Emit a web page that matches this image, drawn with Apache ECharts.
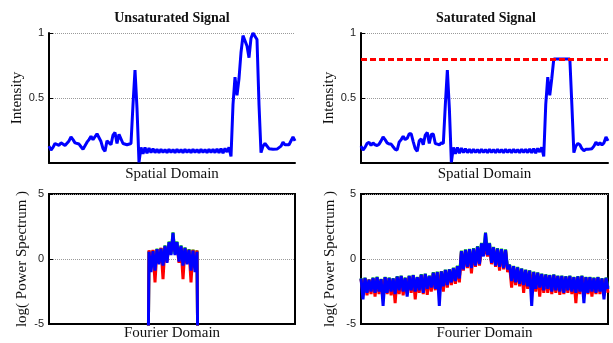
<!DOCTYPE html>
<html>
<head>
<meta charset="utf-8">
<script src="https://cdn.jsdelivr.net/npm/echarts@6/dist/echarts.min.js"></script>
<style>
  html, body { margin: 0; padding: 0; background: #fff; }
  #chart { width: 613px; height: 343px; }
</style>
</head>
<body>
<div id="chart"></div>
<script>
// spatial domain samples (124 points across the axis)
var unsaturated = [
  0.13, 0.10, 0.12, 0.15, 0.16, 0.135, 0.155, 0.14, 0.135, 0.145,
  0.17, 0.20, 0.18, 0.155, 0.146, 0.146, 0.125, 0.105, 0.10, 0.16,
  0.18, 0.205, 0.18, 0.19, 0.225, 0.225, 0.165, 0.11, 0.09, 0.17,
  0.185, 0.14, 0.215, 0.235, 0.15, 0.22, 0.223, 0.15, 0.145, 0.14,
  0.155, 0.15, 0.45, 0.715, 0.42, 0.005, 0.12, 0.07, 0.12, 0.075,
  0.115, 0.08, 0.11, 0.08, 0.105, 0.08, 0.105, 0.082, 0.103, 0.08,
  0.105, 0.082, 0.103, 0.08, 0.105, 0.082, 0.103, 0.08, 0.105, 0.082,
  0.103, 0.08, 0.105, 0.082, 0.103, 0.08, 0.105, 0.082, 0.103, 0.08,
  0.105, 0.082, 0.105, 0.08, 0.108, 0.078, 0.11, 0.075, 0.112, 0.085,
  0.12, 0.05, 0.45, 0.66, 0.52, 0.65, 0.85, 0.98, 0.99, 0.90,
  0.81, 0.96, 1.0, 1.0, 0.95, 0.45, 0.08, 0.13, 0.15, 0.14,
  0.11, 0.095, 0.105, 0.105, 0.107, 0.11, 0.13, 0.16, 0.14, 0.155,
  0.14, 0.155, 0.20, 0.17
];
var saturated = [
  0.13, 0.10, 0.12, 0.15, 0.16, 0.135, 0.155, 0.14, 0.135, 0.145,
  0.17, 0.20, 0.18, 0.155, 0.146, 0.146, 0.125, 0.105, 0.10, 0.16,
  0.18, 0.205, 0.18, 0.19, 0.225, 0.225, 0.165, 0.11, 0.09, 0.17,
  0.185, 0.14, 0.215, 0.235, 0.15, 0.22, 0.223, 0.15, 0.145, 0.14,
  0.155, 0.15, 0.45, 0.715, 0.42, 0.005, 0.12, 0.07, 0.12, 0.075,
  0.115, 0.08, 0.11, 0.08, 0.105, 0.08, 0.105, 0.082, 0.103, 0.08,
  0.105, 0.082, 0.103, 0.08, 0.105, 0.082, 0.103, 0.08, 0.105, 0.082,
  0.103, 0.08, 0.105, 0.082, 0.103, 0.08, 0.105, 0.082, 0.103, 0.08,
  0.105, 0.082, 0.105, 0.08, 0.108, 0.078, 0.11, 0.075, 0.112, 0.085,
  0.12, 0.05, 0.45, 0.66, 0.52, 0.65, 0.80, 0.80, 0.80, 0.80,
  0.80, 0.80, 0.80, 0.80, 0.80, 0.45, 0.08, 0.13, 0.15, 0.14,
  0.11, 0.095, 0.105, 0.105, 0.107, 0.11, 0.13, 0.16, 0.14, 0.155,
  0.14, 0.155, 0.20, 0.17
];
var satLevel = 0.8;

// log power spectra, unsaturated: only the band from index 50 to 74 is non-zero
var bandStart = 50;
var logZero = -20;
var unsatGreen = [0.62, -0.6, 0.66, -0.5, 0.79, -0.2, 0.84, -0.3, 1.04, -0.1, 1.34, 0.4, 2.05, 0.4, 1.34, 0.0, 1.04, -0.3, 0.89, -0.2, 0.75, -0.6, 0.71, -0.7, 0.66];
var unsatRed   = [0.68, -0.5, 0.7, -1.8, 0.75, -0.3, 0.85, -1.55, 0.95, -0.2, 1.1, 0.6, 1.1, 0.6, 1.0, -0.3, 0.9, -1.55, 0.8, -0.3, 0.7, -1.8, 0.7, -0.6, 0.65];
var unsatBlue  = [0.55, -1.0, 0.6, -0.9, 0.75, -0.4, 0.8, -0.5, 1.0, -0.3, 1.3, 0.3, 2.0, 0.3, 1.3, -0.2, 1.0, -0.5, 0.85, -0.4, 0.7, -0.9, 0.65, -1.0, 0.55];

// log power spectra, saturated (124 points)
var satGreen = [
  -1.48, -2.5, -1.43, -2.5, -1.58, -2.4, -1.43, -2.5, -1.37, -2.4,
  -1.53, -2.5, -1.38, -2.5, -1.43, -2.4, -1.48, -2.6, -1.33, -2.3,
  -1.28, -2.4, -1.43, -2.5, -1.28, -2.3, -1.23, -2.4, -1.38, -2.3,
  -1.17, -2.4, -1.13, -2.2, -1.28, -2.1, -1.02, -2.2, -0.98, -2.3,
  -0.93, -2.0, -0.83, -1.9, -0.78, -1.7, -0.68, -1.6, -0.52, -1.4,
  0.64, -0.7, 0.73, -0.5, 0.78, -0.6, 0.83, -0.4, 0.98, -0.3,
  1.23, 0.3, 2.03, 0.4, 1.23, -0.2, 0.93, -0.4, 0.83, -0.5,
  0.79, -0.6, 0.74, -0.7, -0.43, -1.6, -0.53, -1.7, -0.62, -1.8,
  -0.73, -1.9, -0.83, -2.0, -0.87, -2.2, -0.98, -2.2, -1.03, -2.1,
  -1.13, -2.3, -1.18, -2.2, -1.23, -2.4, -1.18, -2.3, -1.28, -2.4,
  -1.28, -2.5, -1.33, -2.3, -1.28, -2.4, -1.38, -2.5, -1.33, -2.4,
  -1.28, -2.5, -1.38, -2.5, -1.38, -2.4, -1.43, -2.5, -1.38, -2.4,
  -1.48, -2.5, -1.43, -2.2
];
var satRed = [
  -1.55, -2.7, -1.5, -2.8, -1.6, -2.7, -1.5, -2.9, -1.45, -2.7,
  -1.6, -2.8, -1.45, -2.7, -1.5, -2.8, -1.55, -3.4, -1.4, -2.7,
  -1.35, -2.8, -1.5, -2.7, -1.35, -2.6, -1.3, -3.1, -1.45, -2.6,
  -1.25, -2.7, -1.2, -2.75, -1.35, -2.5, -1.1, -2.4, -1.05, -2.6,
  -1.0, -2.5, -0.9, -2.2, -0.85, -2.0, -0.75, -1.9, -0.6, -1.8,
  0.55, -0.9, 0.65, -0.7, 0.7, -1.1, 0.75, -0.6, 0.9, -0.5,
  1.0, 0.3, 1.1, 0.2, 1.0, -0.4, 0.85, -0.6, 0.75, -0.9,
  0.7, -0.8, 0.65, -1.0, -0.5, -2.2, -0.6, -2.0, -0.7, -2.1,
  -0.8, -2.6, -0.9, -2.3, -0.95, -2.4, -1.05, -2.5, -1.1, -2.9,
  -1.2, -2.6, -1.25, -2.6, -1.3, -2.7, -1.25, -2.6, -1.35, -2.75,
  -1.35, -2.7, -1.4, -2.6, -1.35, -2.7, -1.45, -3.4, -1.4, -2.7,
  -1.35, -2.8, -1.45, -2.7, -1.45, -2.9, -1.5, -2.7, -1.45, -2.7,
  -1.55, -2.8, -1.5, -2.6
];
var satBlue = [
  -1.5, -3.1, -1.45, -2.6, -1.6, -2.5, -1.45, -2.6, -1.4, -2.5,
  -1.55, -3.6, -1.4, -2.6, -1.45, -2.5, -1.5, -2.7, -1.35, -2.4,
  -1.3, -2.5, -1.45, -2.9, -1.3, -2.4, -1.25, -2.5, -1.4, -2.4,
  -1.2, -2.6, -1.15, -2.3, -1.3, -2.2, -1.05, -2.3, -1.0, -3.6,
  -0.95, -2.1, -0.85, -2.0, -0.8, -1.8, -0.7, -1.7, -0.55, -1.5,
  0.6, -0.8, 0.7, -0.6, 0.75, -0.7, 0.8, -0.5, 0.95, -0.4,
  1.2, 0.2, 2.0, 0.3, 1.2, -0.3, 0.9, -0.5, 0.8, -0.6,
  0.75, -0.7, 0.7, -0.8, -0.45, -1.7, -0.55, -1.8, -0.65, -1.9,
  -0.75, -2.0, -0.85, -2.1, -0.9, -3.6, -1.0, -2.3, -1.05, -2.2,
  -1.15, -2.4, -1.2, -2.3, -1.25, -2.5, -1.2, -2.4, -1.3, -2.5,
  -1.3, -2.6, -1.35, -2.4, -1.3, -2.5, -1.4, -2.6, -1.35, -2.5,
  -1.3, -3.4, -1.4, -2.6, -1.4, -2.5, -1.45, -2.6, -1.4, -2.5,
  -1.5, -3.1, -1.45, -2.3
];

var nSamples = unsaturated.length;

function pairs(arr, offset) {
  return arr.map(function (v, i) { return [i + offset, v]; });
}
function bandPairs(arr) {
  return [[bandStart - 1, logZero]].concat(pairs(arr, bandStart), [[bandStart + arr.length, logZero]]);
}

var serif = '"Liberation Serif", "DejaVu Serif", serif';
var sans = '"Liberation Sans", Arial, sans-serif';

var grids = [
  { left: 49, top: 33, width: 246, height: 130 },
  { left: 361, top: 33, width: 247, height: 130 },
  { left: 49, top: 194, width: 246, height: 130, show: true, borderColor: '#000', borderWidth: 2 },
  { left: 361, top: 194, width: 247, height: 130, show: true, borderColor: '#000', borderWidth: 2 }
];

function xAx(idx, name, gap) {
  return {
    type: 'value', gridIndex: idx, min: 0, max: nSamples - 1,
    name: name, nameLocation: 'middle', nameGap: gap,
    nameTextStyle: { fontFamily: serif, fontSize: 15, color: '#111' },
    axisLine: { show: true, onZero: false, lineStyle: { color: '#000', width: 2 } },
    axisTick: { show: false }, axisLabel: { show: false }, splitLine: { show: false }
  };
}
function yAx(idx, name, gap, min, max, interval, hideZero) {
  return {
    type: 'value', gridIndex: idx, min: min, max: max, interval: interval,
    name: name, nameLocation: 'middle', nameGap: gap, nameRotate: 90,
    nameTextStyle: { fontFamily: serif, fontSize: 15, color: '#111' },
    axisLine: { show: true, lineStyle: { color: '#000', width: 2 } },
    axisTick: { show: true, inside: true, length: 4, lineStyle: { color: '#000', width: 1 } },
    axisLabel: {
      fontFamily: sans, fontSize: 11, color: '#222', margin: 5,
      formatter: function (v) { return (hideZero && v === 0) ? '' : String(v); }
    },
    splitLine: { show: true, lineStyle: { color: '#9a9a9a', type: 'dotted', width: 1 } }
  };
}

function lineSeries(x, y, data, color, extra) {
  var s = {
    type: 'line', xAxisIndex: x, yAxisIndex: y, data: data,
    showSymbol: false, symbol: 'none', clip: true,
    lineStyle: { color: color, width: 3 }, itemStyle: { color: color },
    animation: false
  };
  if (extra) { for (var k in extra) s[k] = extra[k]; }
  return s;
}

var chart = echarts.init(document.getElementById('chart'), null, { renderer: 'canvas' });
chart.setOption({
  backgroundColor: '#fff',
  animation: false,
  title: [
    { text: 'Unsaturated Signal', left: 167, top: 6, textAlign: 'center',
      textStyle: { fontFamily: serif, fontSize: 14, fontWeight: 'bold', color: '#111' } },
    { text: 'Saturated Signal', left: 481, top: 6, textAlign: 'center',
      textStyle: { fontFamily: serif, fontSize: 14, fontWeight: 'bold', color: '#111' } }
  ],
  grid: grids,
  xAxis: [
    xAx(0, 'Spatial Domain', 4),
    xAx(1, 'Spatial Domain', 4),
    xAx(2, 'Fourier Domain', 2),
    xAx(3, 'Fourier Domain', 2)
  ],
  yAxis: [
    yAx(0, 'Intensity', 19, 0, 1, 0.5, true),
    yAx(1, 'Intensity', 22, 0, 1, 0.5, true),
    yAx(2, 'log( Power Spectrum )', 19, -5, 5, 5, false),
    yAx(3, 'log( Power Spectrum )', 23, -5, 5, 5, false)
  ],
  series: [
    lineSeries(0, 0, pairs(unsaturated, 0), '#0000ff'),
    lineSeries(1, 1, pairs(saturated, 0), '#0000ff', {
      markLine: {
        silent: true, symbol: 'none', animation: false,
        label: { show: false },
        lineStyle: { color: '#ff0000', type: [6, 3], width: 3 },
        data: [{ yAxis: satLevel }]
      }
    }),
    lineSeries(2, 2, bandPairs(unsatGreen), '#00cc00'),
    lineSeries(2, 2, bandPairs(unsatRed), '#ff0000'),
    lineSeries(2, 2, bandPairs(unsatBlue), '#0000ff'),
    lineSeries(3, 3, pairs(satGreen, 0), '#00cc00'),
    lineSeries(3, 3, pairs(satRed, 0), '#ff0000'),
    lineSeries(3, 3, pairs(satBlue, 0), '#0000ff')
  ]
});
</script>
</body>
</html>
